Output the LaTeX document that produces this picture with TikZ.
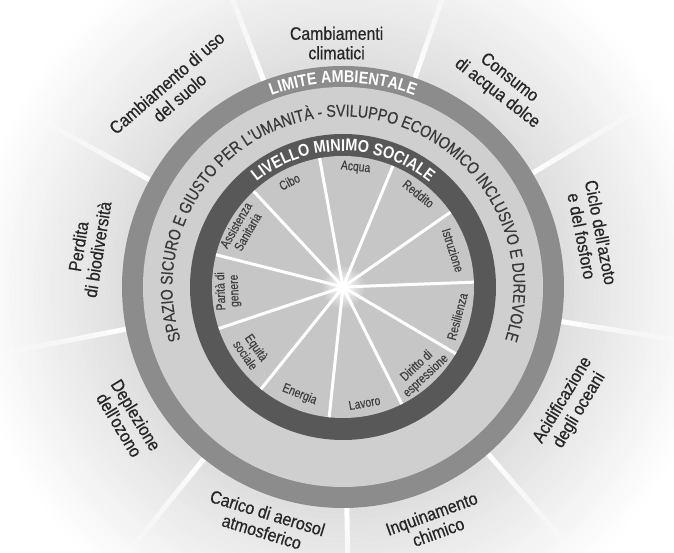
\documentclass[tikz,border=0pt]{standalone}
\usepackage{fontspec}
\setmainfont{Liberation Sans}
\newfontfamily\outerfont{Liberation Sans}[FakeStretch=0.88, FakeBold=0.5]
\newfontfamily\sectorfont{Liberation Sans}[FakeStretch=0.8, FakeBold=0.3]
\newfontfamily\bandfont{Liberation Sans}[FakeStretch=0.83, FakeBold=0.3]
\newfontfamily\ringfont{Liberation Sans}[FakeStretch=0.85]
\usetikzlibrary{decorations.text}

\definecolor{ringmid}{HTML}{8C8C8C}
\definecolor{band}{HTML}{CFCFCF}
\definecolor{ringdark}{HTML}{585858}
\definecolor{disk}{HTML}{C6C6C6}
\definecolor{ink}{HTML}{262626}
\definecolor{inkband}{HTML}{383838}
\definecolor{inksector}{HTML}{3E3E3E}
\definecolor{haze}{HTML}{DFDFDF}

\newcommand\ringfmt{\ringfont\bfseries\fontsize{17}{18}\selectfont\color{white}}
\newcommand\bandfmt{\bandfont\fontsize{17}{18}\selectfont\color{inkband}}

\tikzset{
  outerlab/.style={font=\outerfont\fontsize{18}{19.5}\selectfont, text=ink,
    align=center, inner sep=0pt},
  sectorlab/.style={font=\sectorfont\fontsize{13}{13.5}\selectfont,
    text=inksector, align=center, inner sep=0pt},
  spokeline/.style={white, line width=3pt},
}

\begin{document}
\begin{tikzpicture}[x=1pt,y=1pt]
\useasboundingbox (-343,-266) rectangle (331,287);
\clip (-343,-266) rectangle (331,287);
\fill[white] (-343,-266) rectangle (331,287);

% soft grey halo behind the wheel, fading to white towards the corners
\foreach \r in {400,394,...,222}{
  \pgfmathsetmacro\p{min(100,max(0,(\r-225)/150*100))}
  \fill[white!\p!haze] (0,0) circle (\r);
}

% white rays between the planetary boundaries, fading outwards
\foreach \a in {111,71,31,-9,-49,-89,-129,-169,-209}{
  \foreach \k in {0,...,19}{
    \pgfmathsetmacro\op{1-\k/20}
    \draw[white, line width=5pt, opacity=\op]
      (\a:{221+\k*7}) -- (\a:{221+(\k+1)*7});
  }
}

% rings
\fill[ringmid] (0,0) circle (221);
\fill[band] (0,0) circle (200);
\fill[ringdark] (0,0) circle (153);
\fill[disk] (0,0) circle (131);

% inner wheel: eleven sectors
\shade[inner color=white, outer color=disk] (0,0) circle (22);
\foreach \i in {0,...,10}
  \draw[spokeline] (0,0) -- ({100.3-\i*32.727}:131);
\fill[white] (0,0) circle (3.5);

% curved ring titles
\path[decorate, decoration={text along path, text align=center,
  text={|\ringfmt|LIMITE AMBIENTALE}}]
  (180:204.3) arc[start angle=180, end angle=0, radius=204.3];
\path[decorate, decoration={text along path, text align=center,
  text={|\bandfmt|SPAZIO SICURO E GIUSTO PER L'UMANITÀ - SVILUPPO ECONOMICO INCLUSIVO E DUREVOLE}}]
  (200:170.5) arc[start angle=200, end angle=-20, radius=170.5];
\path[decorate, decoration={text along path, text align=center,
  text={|\ringfmt|LIVELLO MINIMO SOCIALE}}]
  (180:135.9) arc[start angle=180, end angle=0, radius=135.9];

% planetary boundaries
\node[outerlab] (clima) at (91.5:244) {Cambiamenti\\climatici};
\node[outerlab, rotate=-38] (dolce) at (51.5:257) {Consumo\\di acqua dolce};
\node[outerlab, rotate=-79] (azoto) at (12:254) {Ciclo dell'azoto\\e del fosforo};
\node[outerlab, rotate=59] (oceani) at (-27.4:257) {Acidificazione\\degli oceani};
\node[outerlab, rotate=20] (chimico) at (-68.7:253) {Inquinamento\\chimico};
\node[outerlab, rotate=-17] (aerosol) at (-108.4:248) {Carico di aerosol\\atmosferico};
\node[outerlab, rotate=-59] (ozono) at (-148.3:253) {Deplezione\\dell'ozono};
\node[outerlab, rotate=81] (biodiv) at (171.3:258) {Perdita\\di biodiversità};
\node[outerlab, rotate=41] (suolo) at (130.8:260) {Cambiamento di uso\\del suolo};

% social foundation sectors
\node[sectorlab, rotate=-6] (s-acqua) at (84:120) {Acqua};
\node[sectorlab, rotate=-39] (s-reddito) at (51:120) {Reddito};
\node[sectorlab, rotate=-72] (s-istruzione) at (18.5:116) {Istruzione};
\node[sectorlab, rotate=75] (s-resilienza) at (-14.5:118) {Resilienza};
\node[sectorlab, rotate=43] (s-diritto) at (-47:115) {Diritto di\\espressione};
\node[sectorlab, rotate=10] (s-lavoro) at (-79.5:118) {Lavoro};
\node[sectorlab, rotate=-22] (s-energia) at (-112:116) {Energia};
\node[sectorlab, rotate=-55] (s-equita) at (-145:112) {Equità\\sociale};
\node[sectorlab, rotate=92] (s-parita) at (182:115) {Parità di\\genere};
\node[sectorlab, rotate=60] (s-sanita) at (150:117) {Assistenza\\Sanitaria};
\node[sectorlab, rotate=27] (s-cibo) at (117:118) {Cibo};
\end{tikzpicture}
\end{document}
